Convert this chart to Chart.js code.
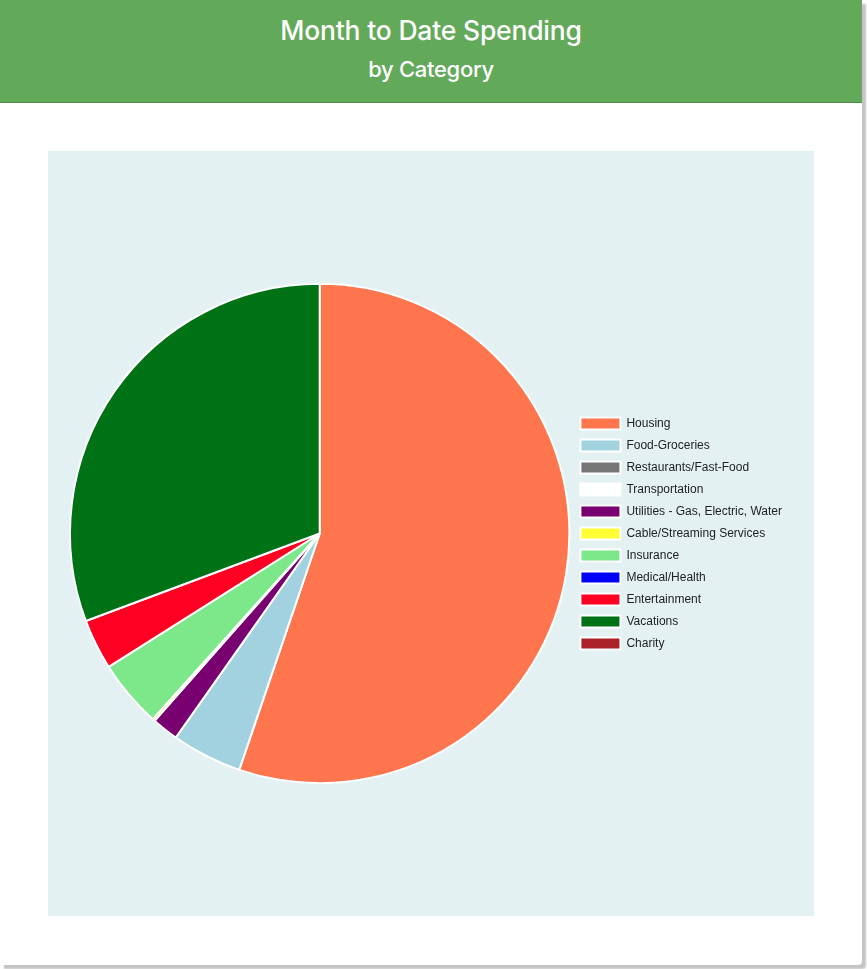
<!DOCTYPE html>
<html>
<head>
<meta charset="utf-8">
<script src="https://cdn.jsdelivr.net/npm/chart.js@4/dist/chart.umd.min.js"></script>
<style>
  html, body { margin: 0; padding: 0; background: #ffffff; }
  .card {
    position: absolute; left: 0; top: 0; width: 862px; height: 965px;
    background: #fff; border-radius: 0 0 4px 0;
    box-shadow: 4px 4px 2px #c4c4c4;
  }
  .header {
    position: absolute; left: 0; top: 0; width: 862px; height: 102px;
    background: #63a95a; border-bottom: 1px solid #4f9147;
    color: #fff; text-align: center; font-family: Inter, "Noto Sans", sans-serif;
  }
  .t1 { position: absolute; left: 0; right: 0; top: 14px; font-size: 26.5px; font-weight: 500; letter-spacing: -0.2px; }
  .t2 { position: absolute; left: 0; right: 0; top: 56px; font-size: 22px; font-weight: 500; letter-spacing: -0.3px; }
  .chartbox {
    position: absolute; left: 48px; top: 151px; width: 766px; height: 765px;
    background: #e4f1f2;
  }
</style>
</head>
<body>
<div class="card">
  <div class="header">
    <div class="t1">Month to Date Spending</div>
    <div class="t2">by Category</div>
  </div>
  <div class="chartbox"><canvas id="c"></canvas></div>
</div>
<script>
const categories = [
  "Housing", "Food-Groceries", "Restaurants/Fast-Food", "Transportation",
  "Utilities - Gas, Electric, Water", "Cable/Streaming Services", "Insurance",
  "Medical/Health", "Entertainment", "Vacations", "Charity"
];
const spending = [1988, 164, 0, 0, 62, 6, 157, 0, 118, 1105, 0];
const sliceColors = [
  "#ff754d", "#a2d2e0", "#777777", "#ffffff", "#780070", "#ffff33",
  "#7ce88a", "#0000ff", "#ff0022", "#007216", "#aa2228"
];

new Chart(document.getElementById("c"), {
  type: "pie",
  data: {
    labels: categories,
    datasets: [{
      data: spending,
      backgroundColor: sliceColors,
      borderColor: "#ffffff",
      borderWidth: 2
    }]
  },
  options: {
    responsive: true,
    maintainAspectRatio: false,
    animation: false,
    layout: { padding: { left: 21, right: 22, top: 20, bottom: 20 } },
    plugins: {
      legend: {
        position: "right",
        labels: {
          font: { family: "'Liberation Sans', Arial, sans-serif", size: 12 },
          color: "#222",
          boxWidth: 40,
          boxHeight: 12
        }
      },
      tooltip: { enabled: false }
    }
  }
});
</script>
</body>
</html>
